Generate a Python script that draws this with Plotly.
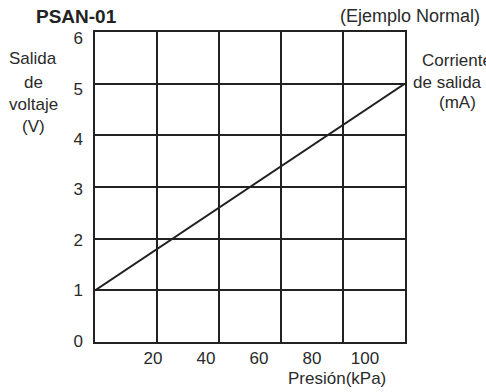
import plotly.graph_objects as go

# Data
pressure_kpa = [-1.9, 115.1]          # line spans the whole chart width
voltage_v = [1, 5]
x_tick_vals = [20, 40, 60, 80, 100]
x_tick_text = ["20", "40", "60", "80", "100"]
x_grid_vals = [21.5, 44.9, 68.3, 91.7]
y_tick_vals = [0, 1, 2, 3, 4, 5, 6]
y_grid_vals = [1, 2, 3, 4, 5]

FONT = "Liberation Sans, Arial, sans-serif"
TXT = "#2a2a2a"
LINE = "#222222"

fig = go.Figure()
# voltage line on label x-axis / grid y-axis
fig.add_trace(go.Scatter(
    x=pressure_kpa, y=voltage_v, mode="lines",
    line=dict(color=LINE, width=2), xaxis="x", yaxis="y",
    showlegend=False, hoverinfo="skip"))
# empty trace so that the grid x-axis and the label y-axis are drawn
fig.add_trace(go.Scatter(x=[None], y=[None], xaxis="x2", yaxis="y2",
                         showlegend=False, hoverinfo="skip"))

fig.update_layout(
    width=486, height=392,
    margin=dict(l=95, r=81, t=32, b=50),
    paper_bgcolor="white", plot_bgcolor="white",
    font=dict(family=FONT, size=17, color=TXT),
    showlegend=False,
    xaxis=dict(range=[-1.9, 115.1], tickvals=x_tick_vals, ticktext=x_tick_text,
               showgrid=False, zeroline=False, ticks="",
               showline=True, linecolor=LINE, linewidth=2, mirror=True,
               tickfont=dict(size=17, color=TXT)),
    xaxis2=dict(range=[-1.9, 115.1], overlaying="x", tickvals=x_grid_vals,
                showticklabels=False, showgrid=True, gridcolor=LINE, gridwidth=1.5,
                zeroline=False, ticks="", showline=False),
    yaxis=dict(range=[0, 6], tickvals=y_grid_vals,
               showticklabels=False, showgrid=True, gridcolor=LINE, gridwidth=1.5,
               zeroline=False, ticks="",
               showline=True, linecolor=LINE, linewidth=2, mirror=True),
    yaxis2=dict(range=[-0.02, 6.12], overlaying="y", side="left", tickvals=y_tick_vals,
                showgrid=False, zeroline=False, ticks="", showline=False,
                tickfont=dict(size=17, color=TXT), ticklabelstandoff=11),
)

ann = [
    dict(text="<b>PSAN-01</b>", x=76, y=16, font=dict(size=19, color="#222")),
    dict(text="(Ejemplo Normal)", x=410, y=16, font=dict(size=18)),
    dict(text="Salida", x=33, y=58),
    dict(text="de", x=33, y=82),
    dict(text="voltaje", x=33, y=104),
    dict(text="(V)", x=33, y=127),
    dict(text="Corriente", x=420, y=61, anchor="left"),
    dict(text="de salida", x=411, y=82, anchor="left"),
    dict(text="(mA)", x=457, y=103),
    dict(text="Presión(kPa)", x=337, y=378),
]
for a in ann:
    fig.add_annotation(
        text=a["text"], xref="paper", yref="paper",
        x=(a["x"] - 95) / 310, y=1 - (a["y"] - 32) / 310,
        xanchor=a.get("anchor", "center"), yanchor="middle", showarrow=False,
        font=a.get("font", dict(size=17)))

fig.write_html("out.html", config={"displayModeBar": False},
               post_script="document.body.style.margin='0';document.body.style.overflow='hidden';")
